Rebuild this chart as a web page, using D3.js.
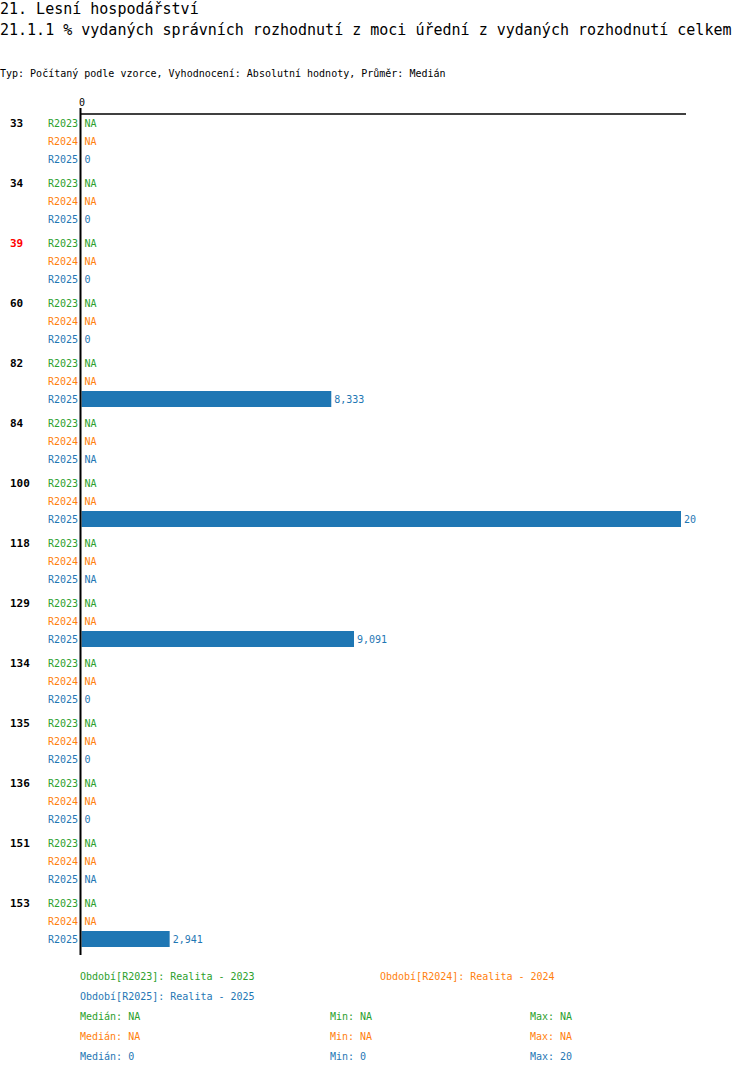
<!DOCTYPE html>
<html>
<head>
<meta charset="utf-8">
<script src="https://cdn.jsdelivr.net/npm/d3@7"></script>
<style>
  body { margin: 0; background: #fff; }
  svg { display: block; font-family: "DejaVu Sans Mono", monospace; }
</style>
</head>
<body>
<div id="chart"></div>
<script>
const groups = ["33", "34", "39", "60", "82", "84", "100", "118", "129", "134", "135", "136", "151", "153"];
const highlighted = ["39"];
const series = ["R2023", "R2024", "R2025"];
const seriesColors = ["#2ca02c", "#ff7f0e", "#1f77b4"];
const seriesNames = ["Realita - 2023", "Realita - 2024", "Realita - 2025"];

// null = NA
const r2023 = [null, null, null, null, null, null, null, null, null, null, null, null, null, null];
const r2024 = [null, null, null, null, null, null, null, null, null, null, null, null, null, null];
const r2025 = [0, 0, 0, 0, 8.333, null, 20, null, 9.091, 0, 0, 0, null, 2.941];
const values = [r2023, r2024, r2025];

const stats = [
  { median: "NA", min: "NA", max: "NA" },
  { median: "NA", min: "NA", max: "NA" },
  { median: "0", min: "0", max: "20" },
];

const width = 750, height = 1074;
const svg = d3.select("#chart").append("svg")
  .attr("width", width).attr("height", height);

svg.append("text").attr("x", 0).attr("y", 14)
  .attr("font-size", 15).text("21. Lesní hospodářství");
svg.append("text").attr("x", 0).attr("y", 35)
  .attr("font-size", 15)
  .text("21.1.1 % vydaných správních rozhodnutí z moci úřední z vydaných rozhodnutí celkem");
svg.append("text").attr("x", 0).attr("y", 77)
  .attr("font-size", 10)
  .text("Typ: Počítaný podle vzorce, Vyhodnocení: Absolutní hodnoty, Průměr: Medián");

const x = d3.scaleLinear().domain([0, 20]).range([81.5, 681]);
const groupY = d3.scalePoint().domain(groups).range([123, 123 + 60 * (groups.length - 1)]);
const rowY = d3.scalePoint().domain(series).range([0, 36]);
const fmt = (v) => d3.format(",")(v).replace(".", ",");

// top axis
const axisG = svg.append("g").attr("transform", "translate(0,114)");
axisG.call(d3.axisTop(x).tickValues([0]).tickSize(0).tickPadding(8).tickFormat(d3.format("d")))
  .attr("font-family", null).attr("font-size", 10)
  .call((g) => g.select(".domain").remove());
axisG.append("line").attr("x1", 80).attr("x2", 686).attr("stroke", "#000").attr("stroke-width", 1.5);

groups.forEach((grp, gi) => {
  const g = svg.append("g").attr("transform", `translate(0,${groupY(grp)})`);
  g.append("text").attr("x", 10).attr("y", 0).attr("dy", "0.35em")
    .attr("font-size", 11).attr("font-weight", "bold")
    .attr("fill", highlighted.includes(grp) ? "#ff0000" : "#000")
    .text(grp);
  series.forEach((s, si) => {
    const y = rowY(s);
    const v = values[si][gi];
    const color = seriesColors[si];
    g.append("text").attr("x", 78).attr("y", y).attr("dy", "0.35em")
      .attr("text-anchor", "end").attr("font-size", 10).attr("fill", color).text(s);
    if (v !== null && v > 0) {
      g.append("rect").attr("x", x(0)).attr("y", y - 8)
        .attr("width", x(v) - x(0)).attr("height", 16).attr("fill", color);
    }
    g.append("text").attr("x", (v === null ? x(0) : x(v)) + 3).attr("y", y).attr("dy", "0.35em")
      .attr("font-size", 10).attr("fill", color).text(v === null ? "NA" : fmt(v));
  });
});

// vertical axis line
svg.append("line").attr("x1", 80.5).attr("x2", 80.5).attr("y1", 108).attr("y2", 955)
  .attr("stroke", "#000").attr("stroke-width", 2);

// legend
const legend = svg.append("g").attr("font-size", 10);
const legendPos = [[80, 976], [380, 976], [80, 996]];
series.forEach((s, i) => {
  legend.append("text").attr("x", legendPos[i][0]).attr("y", legendPos[i][1]).attr("dy", "0.35em")
    .attr("fill", seriesColors[i]).text(`Období[${s}]: ${seriesNames[i]}`);
  const y = 1016 + i * 20;
  legend.append("text").attr("x", 80).attr("y", y).attr("dy", "0.35em")
    .attr("fill", seriesColors[i]).text(`Medián: ${stats[i].median}`);
  legend.append("text").attr("x", 330).attr("y", y).attr("dy", "0.35em")
    .attr("fill", seriesColors[i]).text(`Min: ${stats[i].min}`);
  legend.append("text").attr("x", 530).attr("y", y).attr("dy", "0.35em")
    .attr("fill", seriesColors[i]).text(`Max: ${stats[i].max}`);
});
</script>
</body>
</html>
